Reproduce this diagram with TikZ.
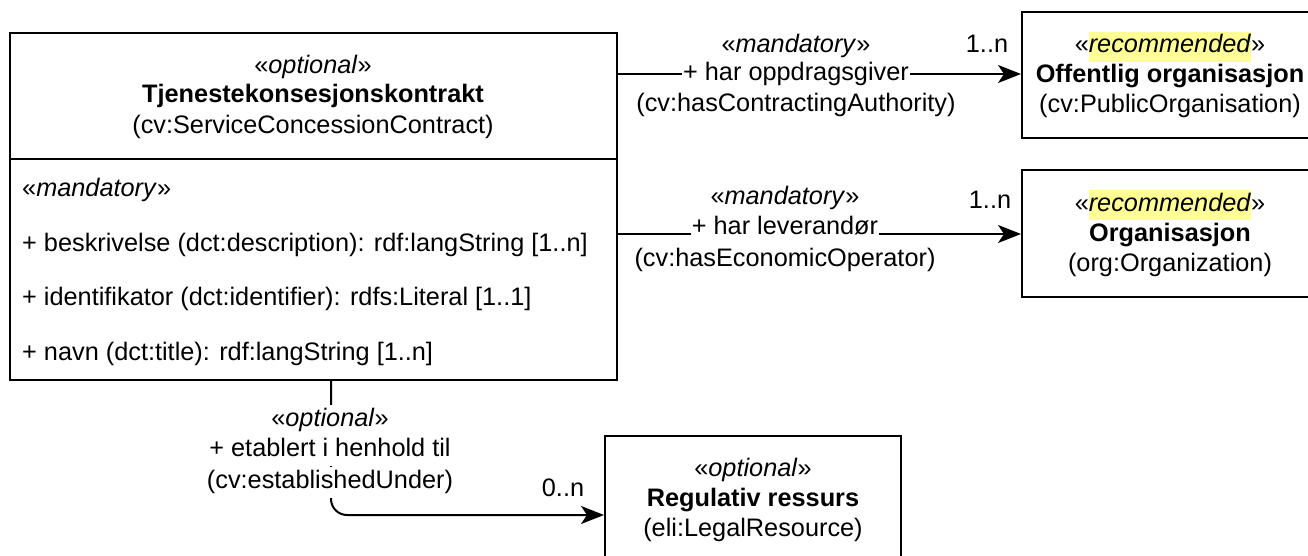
\documentclass[tikz,border=0pt]{standalone}
\usepackage{fontspec}
\setmainfont{Liberation Sans}
\usetikzlibrary{arrows.meta}
\definecolor{hly}{RGB}{255,255,150}
\newcommand\hlt[1]{{\setlength{\fboxsep}{0pt}\colorbox{hly}{\strut#1}}}
\tikzset{
  every node/.style={font=\fontsize{25.3}{30}\selectfont},
  cls/.style={draw, line width=2pt, rectangle, align=center, inner sep=0pt},
  txt/.style={inner sep=0pt, align=center},
  lbl/.style={fill=white, inner xsep=1pt, inner ysep=0pt, text height=22pt, text depth=9pt},
  attr/.style={inner sep=0pt, anchor=west},
  conn/.style={line width=2pt, -{Stealth[length=23pt,width=18pt,inset=6pt]}},
}
\begin{document}
\begin{tikzpicture}[x=1pt,y=-1pt]
\useasboundingbox (0,0) rectangle (1308,556);
% main class
\node[cls, minimum width=607pt, minimum height=347pt] (main) at (313.5,206.5) {};
\node[txt] (mh1) at (313,67) {«\textit{optional}»};
\node[txt] (mh2) at (313,96) {\textbf{Tjenestekonsesjonskontrakt}};
\node[txt] (mh3) at (313,127) {(cv:ServiceConcessionContract)};
\coordinate (dl) at (10,159);
\coordinate (dr) at (617,159);
\draw[line width=2pt] (dl) -- (dr);
\node[attr] (a0) at (22,190) {«\textit{mandatory}»};
\node[attr] (a1) at (22,245) {+ beskrivelse (dct:description): rdf:langString [1..n]};
\node[attr] (a2) at (22,299) {+ identifikator (dct:identifier): rdfs:Literal [1..1]};
\node[attr] (a3) at (22,354) {+ navn (dct:title): rdf:langString [1..n]};
% target classes
\node[cls, minimum width=296pt, minimum height=126pt] (pub) at (1170,75)
  {«\hlt{\textit{recommended}}»\\\textbf{Offentlig organisasjon}\\(cv:PublicOrganisation)};
\node[cls, minimum width=296pt, minimum height=127pt] (org) at (1170,233.5)
  {«\hlt{\textit{recommended}}»\\\textbf{Organisasjon}\\(org:Organization)};
\node[cls, minimum width=296pt, minimum height=128pt] (reg) at (753,500)
  {«\textit{optional}»\\\textbf{Regulativ ressurs}\\(eli:LegalResource)};
% connectors
\coordinate (y1) at (0,74);
\coordinate (y2) at (0,234);
\coordinate (x3) at (331,0);
\coordinate (c3) at (331,515);
\draw[conn] (main.east |- y1) -- (pub.west |- y1);
\draw[conn] (main.east |- y2) -- (org.west |- y2);
\draw[conn, rounded corners=16pt] (main.south -| x3) -- (c3) -- (reg.west |- c3);
% labels
\node[lbl] (l1a) at (796,46) {«\textit{mandatory}»};
\node[lbl] (l1b) at (796,74) {+ har oppdragsgiver};
\node[lbl] (l1c) at (796,105) {(cv:hasContractingAuthority)};
\node[txt] (m1) at (987,44) {1..n};
\node[lbl] (l2a) at (785,198) {«\textit{mandatory}»};
\node[lbl] (l2b) at (785,228) {+ har leverandør};
\node[lbl] (l2c) at (785,260) {(cv:hasEconomicOperator)};
\node[txt] (m2) at (990,200) {1..n};
\node[lbl] (l3a) at (330,420) {«\textit{optional}»};
\node[lbl] (l3b) at (330,450) {+ etablert i henhold til};
\node[lbl] (l3c) at (330,482) {(cv:establishedUnder)};
\node[txt] (m3) at (563,488) {0..n};
\end{tikzpicture}
\end{document}
